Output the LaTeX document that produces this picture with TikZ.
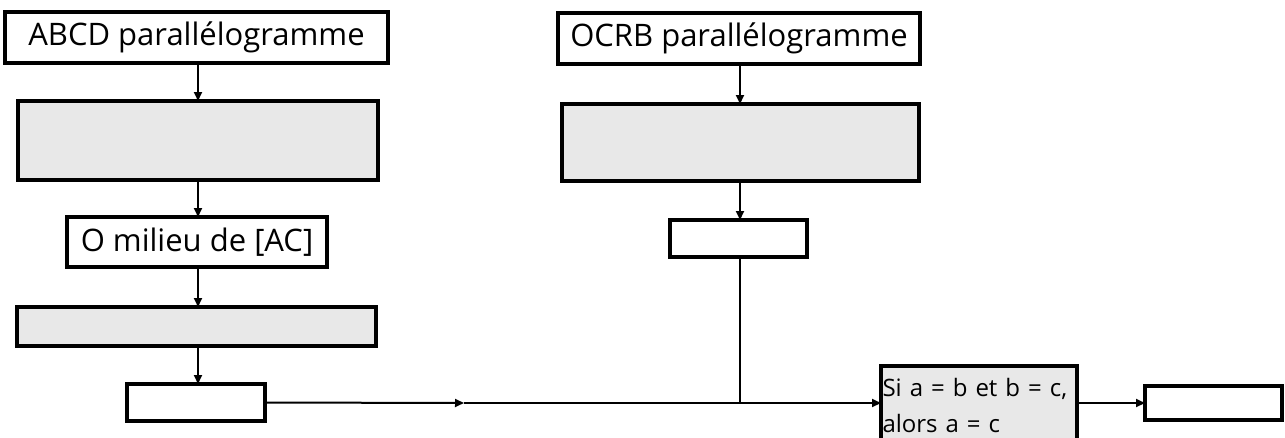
\documentclass[tikz,border=0pt]{standalone}
\usepackage{fontspec}
\setmainfont{Open Sans}
\usetikzlibrary{arrows.meta}
\tikzset{
  box/.style={draw, line width=3.4pt, rectangle, inner sep=0pt, outer sep=0pt},
  whitebox/.style={box, fill=white},
  graybox/.style={box, fill=gray!18},
  bigtext/.style={font=\fontsize{31}{36}\selectfont},
  conn/.style={line width=2pt},
  arr/.style={conn, -{Triangle[length=9pt,width=8pt]}},
}
\begin{document}
\begin{tikzpicture}[x=1pt, y=-1pt]
  \useasboundingbox (0,0) rectangle (1285,437);
  \clip (0,0) rectangle (1285,437);

  % left column
  \node[whitebox, bigtext, minimum width=383pt, minimum height=51pt] (abcd) at (196.5,37.5) {ABCD parallélogramme};
  \node[graybox, minimum width=360pt, minimum height=79pt] (g1) at (198,140.5) {};
  \node[whitebox, bigtext, minimum width=260pt, minimum height=50pt] (omil) at (197,242) {O milieu de [AC]};
  \node[graybox, minimum width=359pt, minimum height=39pt] (g2) at (196.5,326.5) {};
  \node[whitebox, minimum width=138pt, minimum height=37pt] (w1) at (196,402.5) {};

  % right column
  \node[whitebox, bigtext, minimum width=362pt, minimum height=51pt] (ocrb) at (739,38.5) {OCRB parallélogramme};
  \node[graybox, minimum width=357pt, minimum height=77pt] (g3) at (740.5,142.5) {};
  \node[whitebox, minimum width=137pt, minimum height=37pt] (w2) at (738.5,238.5) {};

  % conclusion
  \node[graybox, minimum width=196pt, minimum height=74pt, text width=193pt, align=left,
        inner xsep=1.5pt, font=\fontsize{24}{36}\selectfont] (si) at (979,403)
        {\rule{0pt}{24pt}Si a = b et b = c,\\alors a = c};
  \node[whitebox, minimum width=137pt, minimum height=34pt] (res) at (1213.5,403) {};

  \coordinate (mid) at (464,403);
  \coordinate (join) at (740,403);

  % connectors
  \draw[arr] (abcd.south -| g1) -- (g1.north);
  \draw[arr] (g1.south) -- (omil.north -| g1);
  \draw[arr] (omil.south -| g1) -- (g2.north -| g1);
  \draw[arr] (g2.south -| g1) -- (w1.north -| g1);
  \draw[arr] (ocrb.south -| join) -- (g3.north -| join);
  \draw[arr] (g3.south -| join) -- (w2.north -| join);
  \draw[conn] (w2.south -| join) -- (join);
  \draw[arr] (w1.east) -- (mid);
  \draw[arr] (mid) -- (si.west);
  \draw[arr] (si.east) -- (res.west);
\end{tikzpicture}
\end{document}
